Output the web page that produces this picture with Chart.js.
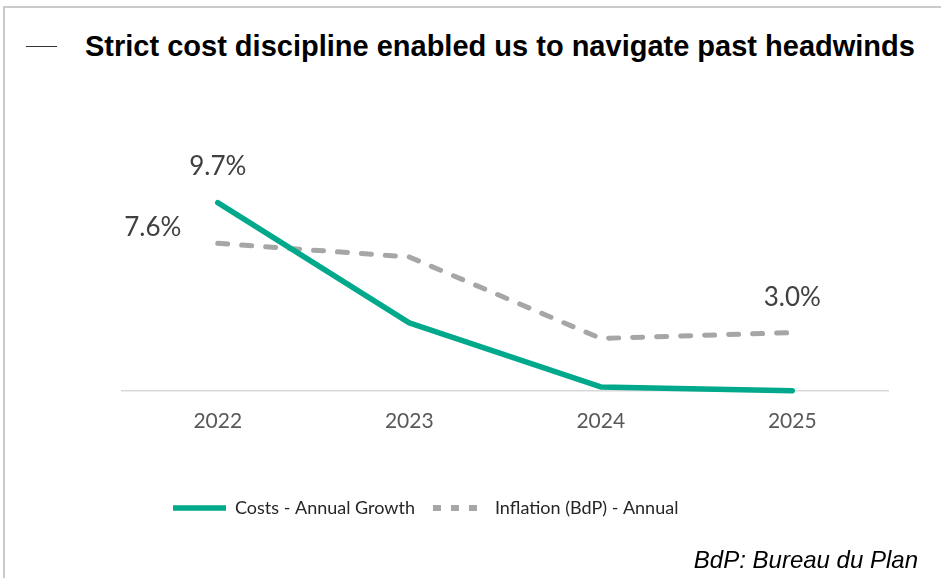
<!DOCTYPE html>
<html>
<head>
<meta charset="utf-8">
<script src="https://cdn.jsdelivr.net/npm/chart.js@4.4.1/dist/chart.umd.min.js"></script>
<style>
  html, body { margin: 0; padding: 0; background: #fff; }
  #wrap { position: relative; width: 941px; height: 578px; overflow: hidden; }
  #frame { position: absolute; left: 3px; top: 6px; width: 980px; height: 620px; border-left: 2px solid #cacaca; border-top: 2px solid #cacaca; }
  #dash { position: absolute; left: 26px; top: 46px; width: 31px; height: 0; border-top: 1.5px solid #333; }
  #title { position: absolute; left: 85px; top: 30px; font: bold 29px "Liberation Sans", Arial, sans-serif; color: #000; white-space: nowrap; line-height: 32px; }
  #note { position: absolute; right: 23px; top: 546px; font: italic 24px "Liberation Sans", Arial, sans-serif; color: #000; line-height: 28px; }
  canvas { position: absolute; left: 0; top: 0; }
</style>
</head>
<body>
<div id="wrap">
  <div id="frame"></div>
  <div id="dash"></div>
  <div id="title">Strict cost discipline enabled us to navigate past headwinds</div>
  <canvas id="myChart" width="941" height="578"></canvas>
  <div id="note">BdP: Bureau du Plan</div>
</div>
<script>
// values (annual %, years 2022-2025)
const years = ["2022", "2023", "2024", "2025"];
const costsGrowth = [9.7, 3.5, 0.2, 0.0];
const inflationBdP = [7.6, 6.9, 2.7, 3.0];
// which points carry a value label
const costsLabelled = [0];
const inflationLabelled = [0, 3];

const TEAL = "#00a98b";
const GREY = "#a6a6a6";

// draws the few "x.x%" labels next to their points
const pointLabels = {
  id: "pointLabels",
  afterDatasetsDraw(chart) {
    const ctx = chart.ctx;
    ctx.save();
    ctx.font = "26px Lato";
    ctx.fillStyle = "#404040";
    ctx.textAlign = "center";
    ctx.textBaseline = "middle";
    chart.data.datasets.forEach((ds, i) => {
      const meta = chart.getDatasetMeta(i);
      ds.labelled.forEach((j) => {
        const pt = meta.data[j];
        const off = (ds.labelOffset && ds.labelOffset[j]) || [0, -36];
        ctx.fillText(ds.data[j].toFixed(1) + "%", pt.x + off[0], pt.y + off[1]);
      });
    });
    ctx.restore();
  },
};

// nudge the legend to where it sits in the slide
const legendShift = {
  id: "legendShift",
  afterLayout(chart) {
    chart.legend.left += 33;
    chart.legend.right += 33;
  },
};

const ctx = document.getElementById("myChart").getContext("2d");

const myChart = new Chart(ctx, {
  type: "line",
  data: {
    labels: years,
    datasets: [
      {
        label: "Costs - Annual Growth",
        data: costsGrowth,
        labelled: costsLabelled,
        borderColor: TEAL,
        backgroundColor: TEAL,
        borderWidth: 5.5,
        borderCapStyle: "round",
        borderJoinStyle: "round",
        pointRadius: 0,
        tension: 0,
        clip: false,
      },
      {
        label: "Inflation (BdP) - Annual",
        data: inflationBdP,
        labelled: inflationLabelled,
        labelOffset: { 0: [-65, -16], 3: [0, -35] },
        borderColor: GREY,
        backgroundColor: GREY,
        borderWidth: 5,
        borderDash: [10, 14],
        borderCapStyle: "round",
        borderJoinStyle: "round",
        pointRadius: 0,
        tension: 0,
        clip: false,
      },
    ],
  },
  options: {
    responsive: false,
    animation: false,
    layout: { padding: { left: 122, right: 53, top: 158, bottom: 51 } },
    scales: {
      x: {
        offset: true,
        grid: { display: false, drawTicks: false },
        border: { display: true, color: "#d9d9d9", width: 1.5 },
        ticks: { padding: 18, color: "#595959", font: { family: "Lato", size: 21 } },
        afterFit(scale) {
          scale.height += 29;
        },
      },
      y: { display: false, min: 0, max: 12 },
    },
    plugins: {
      legend: {
        position: "bottom",
        align: "start",
        labels: {
          usePointStyle: true,
          pointStyle: "line",
          pointStyleWidth: 53,
          padding: 18,
          color: "#262626",
          font: { family: "Lato", size: 18 },
          generateLabels(chart) {
            const items = Chart.defaults.plugins.legend.labels.generateLabels(chart);
            items[1].lineDash = [8, 10];
            items[1].lineWidth = 6;
            return items;
          },
        },
      },
      tooltip: { enabled: false },
    },
  },
  plugins: [pointLabels, legendShift],
});
</script>
</body>
</html>
